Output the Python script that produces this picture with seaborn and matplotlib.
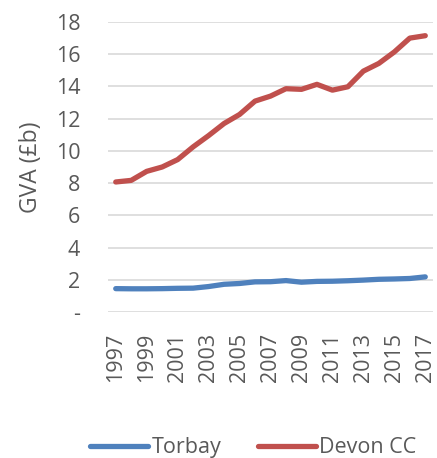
import pandas as pd
import matplotlib.pyplot as plt
import seaborn as sns

years = list(range(1997, 2018))
torbay = [1.45, 1.44, 1.44, 1.45, 1.47, 1.48, 1.58, 1.72, 1.77, 1.87, 1.88, 1.95, 1.85, 1.9,
          1.91, 1.94, 1.98, 2.03, 2.05, 2.08, 2.18]
devon = [8.07, 8.17, 8.73, 9.0, 9.46, 10.25, 10.95, 11.7, 12.26, 13.09, 13.4, 13.86, 13.82,
         14.13, 13.77, 13.98, 14.95, 15.43, 16.14, 17.0, 17.15]
series = ["Torbay", "Devon CC"]
colors = ["#4F81BD", "#C0504D"]
yticks = [0, 2, 4, 6, 8, 10, 12, 14, 16, 18]
ytick_labels = ["-", "2", "4", "6", "8", "10", "12", "14", "16", "18"]

df = pd.DataFrame({
    "idx": list(range(len(years))) * 2,
    "value": torbay + devon,
    "area": [series[0]] * len(years) + [series[1]] * len(years),
})

sns.set_style("white")
plt.rcParams["font.family"] = ["Open Sans", "DejaVu Sans"]
grey = "#595959"

fig = plt.figure(figsize=(4.37, 4.58), dpi=100)
ax = fig.add_axes([108 / 437, (458 - 312) / 458, 325 / 437, 290 / 458])

sns.lineplot(data=df, x="idx", y="value", hue="area", palette=colors, linewidth=3.8,
             ax=ax, legend=False, zorder=3)

ax.set_xlim(-0.5, len(years) - 0.5)
ax.set_ylim(0, 18)
ax.set_yticks(yticks)
ax.set_yticklabels(ytick_labels)
ax.set_xticks(range(0, len(years), 2))
ax.set_xticklabels([str(y) for y in years[::2]], rotation=90)
ax.tick_params(axis="both", length=0, labelsize=15.5, labelcolor=grey)
ax.tick_params(axis="y", pad=20)
ax.tick_params(axis="x", pad=15)
ax.grid(axis="y", color="#d9d9d9", linewidth=1.2, zorder=0)
for s in ["top", "right", "left", "bottom"]:
    ax.spines[s].set_visible(False)
ax.set_xlabel("")
ax.set_ylabel("GVA (£b)", fontsize=16.5, color=grey, labelpad=9)

handles = [plt.Line2D([0], [0], color=c, linewidth=3.8) for c in colors]
fig.legend(handles, series, loc="center", bbox_to_anchor=(0.58, 0.022), ncol=2,
           frameon=False, fontsize=15.5, handlelength=2.7, handletextpad=0.15,
           columnspacing=1.7, labelcolor=grey)

fig.savefig("out.png", dpi=100)
